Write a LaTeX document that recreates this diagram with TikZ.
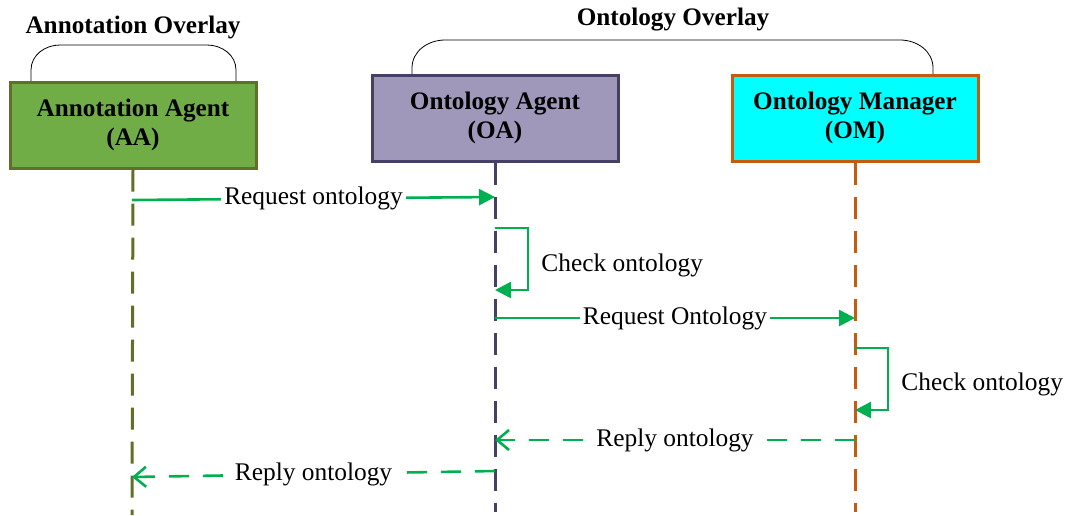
\documentclass[tikz,border=0pt]{standalone}
\usepackage{fontspec}
\setmainfont{Liberation Serif}
\usetikzlibrary{arrows.meta}
\usepackage{xcolor}

\definecolor{aagreen}{RGB}{112,173,71}
\definecolor{aaline}{RGB}{96,112,40}
\definecolor{oapurple}{RGB}{160,152,186}
\definecolor{oaline}{RGB}{72,64,100}
\definecolor{omcyan}{RGB}{0,255,255}
\definecolor{omline}{RGB}{197,90,17}
\definecolor{msg}{RGB}{0,176,80}

\tikzset{
  agent/.style={draw, line width=1.5pt, minimum width=123pt, minimum height=43pt,
    align=center, font=\fontsize{12.6}{14.5}\selectfont\bfseries},
  lifeline/.style={line width=1.5pt, dash pattern=on 11pt off 6pt},
  request/.style={msg, line width=1.3pt, -{Triangle[length=8pt,width=8pt]}},
  reply/.style={msg, line width=1.3pt, dash pattern=on 10pt off 7pt,
    -{Straight Barb[length=6pt,width=10pt]}},
  msglabel/.style={fill=white, text=black, inner sep=1.5pt, font=\fontsize{12.7}{14}\selectfont},
  overlay/.style={font=\fontsize{12.6}{14}\selectfont\bfseries}
}

\begin{document}
\begin{tikzpicture}[x=0.5pt,y=-0.5pt]
  \useasboundingbox (0,0) rectangle (1068,515);

  % Agents
  \node[agent, fill=aagreen, draw=aaline] (aa) at (133,125) {Annotation Agent\\(AA)};
  \node[agent, fill=oapurple, draw=oaline] (oa) at (495,118) {Ontology Agent\\(OA)};
  \node[agent, fill=omcyan, draw=omline] (om) at (855,118) {Ontology Manager\\(OM)};

  % Overlays
  \node[overlay] (aaover) at (133,27) {Annotation Overlay};
  \draw[thin] (31,81) -- (31,70) to[out=90,in=180] (60,45) -- (207,45) to[out=0,in=90] (236,70) -- (236,81);
  \node[overlay] (ontover) at (673,20) {Ontology Overlay};
  \draw[thin] (412,74) -- (412,68) to[out=90,in=180] (445,40) -- (900,40) to[out=0,in=90] (933,68) -- (933,74);

  % Lifelines
  \coordinate (aaend) at (132,515);
  \coordinate (oaend) at (495,512);
  \coordinate (omend) at (855,512);
  \draw[lifeline, aaline] (aa.south) -- (aaend);
  \draw[lifeline, oaline] (oa.south) -- (oaend);
  \draw[lifeline, omline] (om.south) -- (omend);

  % Points on the lifelines
  \coordinate (aa1) at (132,200);
  \coordinate (oa1) at (495,197);
  \coordinate (oa2) at (495,228);
  \coordinate (oa3) at (495,290);
  \coordinate (oa4) at (495,318);
  \coordinate (om1) at (855,318);
  \coordinate (om2) at (855,348);
  \coordinate (om3) at (855,410);
  \coordinate (om4) at (855,440);
  \coordinate (oa5) at (495,440);
  \coordinate (oa6) at (495,471);
  \coordinate (aa2) at (132,477);

  % Messages
  \draw[request] (aa1) -- node[msglabel] {Request ontology} (oa1);
  \draw[request] (oa2) -- (528,228) -- (528,290) -- (oa3);
  \node[msglabel, anchor=west] (check1) at (538,265) {Check ontology};
  \draw[request] (oa4) -- node[msglabel] {Request Ontology} (om1);
  \draw[request] (om2) -- (888,348) -- (888,410) -- (om3);
  \node[msglabel, anchor=west] (check2) at (898,384) {Check ontology};
  \draw[reply] (om4) -- node[msglabel] {Reply ontology} (oa5);
  \draw[reply] (oa6) -- node[msglabel] {Reply ontology} (aa2);

\end{tikzpicture}
\end{document}
